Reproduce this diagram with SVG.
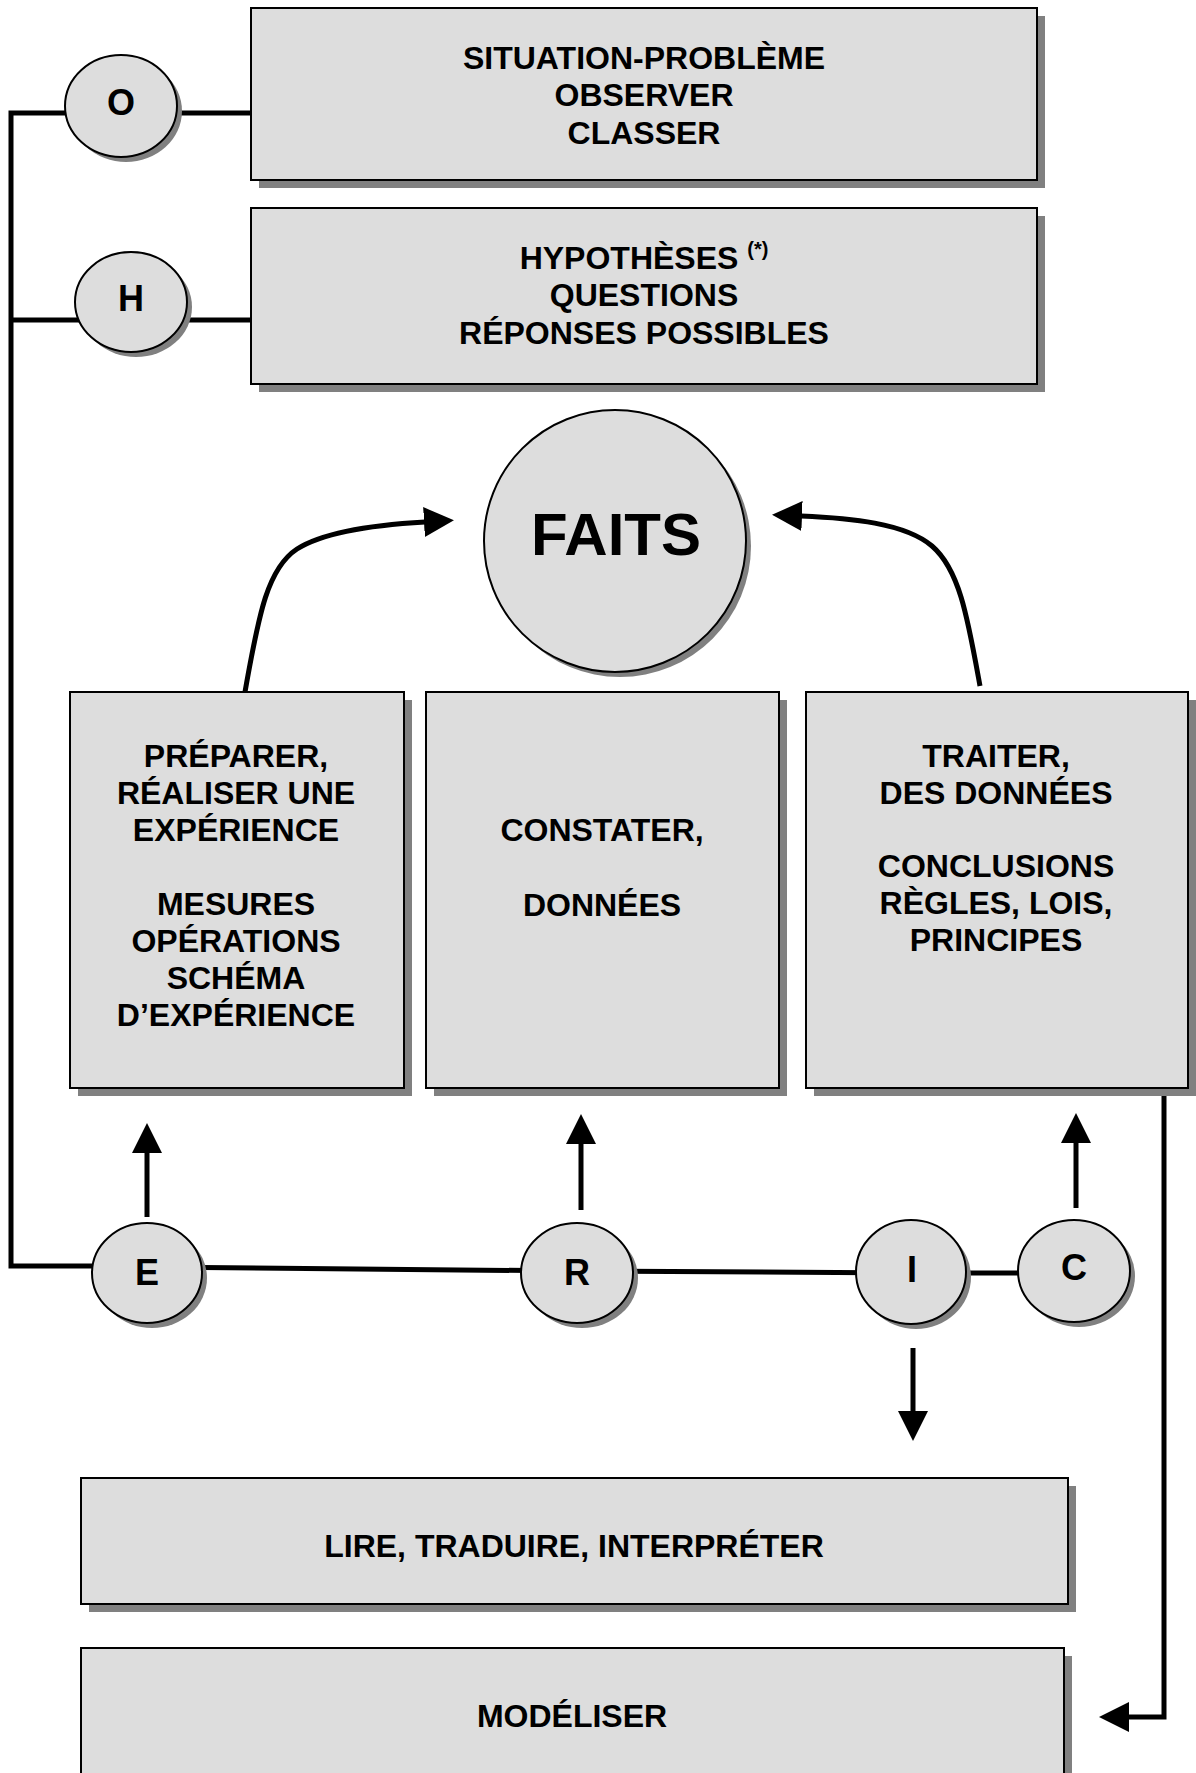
<svg xmlns="http://www.w3.org/2000/svg" width="1196" height="1773" viewBox="0 0 1196 1773">
<defs>
<marker id="ah" markerUnits="userSpaceOnUse" markerWidth="30" markerHeight="30" viewBox="0 0 30 30" refX="1" refY="15" orient="auto">
<path d="M0,0 L30,15 L0,30 Z" fill="#000"/>
</marker>
</defs>
<style>
.box{fill:#dddddd;stroke:#000;stroke-width:2}
.sh{fill:#808080}
.node{fill:#dddddd;stroke:#000;stroke-width:2}
.t{font-family:"Liberation Sans",Arial,Helvetica,sans-serif;font-weight:bold;font-size:32px;fill:#000;text-anchor:middle}
.lt{font-family:"Liberation Sans",Arial,Helvetica,sans-serif;font-weight:bold;font-size:36px;fill:#000;text-anchor:middle}
.c{fill:none;stroke:#000;stroke-width:5}
.a{fill:none;stroke:#000;stroke-width:5;marker-end:url(#ah)}
</style>
<rect width="1196" height="1773" fill="#fff"/>

<g id="connectors">
<path class="c" d="M251,113 H11 V1266 H147"/>
<path class="c" d="M11,320 H251"/>
<path class="c" d="M147,1267 L577,1271 L911,1273 L1074,1273"/>
<path class="a" d="M147,1217 V1152"/>
<path class="a" d="M581,1210 V1143"/>
<path class="a" d="M1076,1208 V1142"/>
<path class="a" d="M913,1348 V1412"/>
<path class="a" d="M245,692 C259,612 268,568 297,549 C324,532 372,525 425,522"/>
<path class="a" d="M980,686 C968,620 960,570 932,546 C905,523 850,518 801,516"/>
<path class="a" d="M1164,1087 V1717 H1128"/>
</g>

<g id="box-situation">
<rect class="sh" x="259" y="16" width="786" height="172"/>
<rect class="box" x="251" y="8" width="786" height="172"/>
<text class="t" x="644" y="69">SITUATION-PROBLÈME</text>
<text class="t" x="644" y="106">OBSERVER</text>
<text class="t" x="644" y="144">CLASSER</text>
</g>

<g id="box-hypotheses">
<rect class="sh" x="259" y="216" width="786" height="176"/>
<rect class="box" x="251" y="208" width="786" height="176"/>
<text class="t" x="644" y="269">HYPOTHÈSES <tspan font-size="20" dy="-13">(*)</tspan></text>
<text class="t" x="644" y="306">QUESTIONS</text>
<text class="t" x="644" y="344">RÉPONSES POSSIBLES</text>
</g>

<g id="node-O">
<ellipse class="sh" cx="126" cy="111" rx="56" ry="51"/>
<ellipse class="node" cx="121" cy="106" rx="56" ry="51"/>
<text class="lt" x="121" y="115">O</text>
</g>

<g id="node-H">
<ellipse class="sh" cx="136" cy="307" rx="56" ry="50"/>
<ellipse class="node" cx="131" cy="302" rx="56" ry="50"/>
<text class="lt" x="131" y="311">H</text>
</g>

<g id="node-faits">
<circle class="sh" cx="620" cy="546" r="131"/>
<circle class="node" cx="615" cy="541" r="131"/>
<text class="t" x="616" y="555" style="font-size:60px">FAITS</text>
</g>

<g id="box-preparer">
<rect class="sh" x="78" y="700" width="334" height="396"/>
<rect class="box" x="70" y="692" width="334" height="396"/>
<text class="t" x="236" y="767">PRÉPARER,</text>
<text class="t" x="236" y="804">RÉALISER UNE</text>
<text class="t" x="236" y="841">EXPÉRIENCE</text>
<text class="t" x="236" y="915">MESURES</text>
<text class="t" x="236" y="952">OPÉRATIONS</text>
<text class="t" x="236" y="989">SCHÉMA</text>
<text class="t" x="236" y="1026">D’EXPÉRIENCE</text>
</g>

<g id="box-constater">
<rect class="sh" x="434" y="700" width="353" height="396"/>
<rect class="box" x="426" y="692" width="353" height="396"/>
<text class="t" x="602" y="841">CONSTATER,</text>
<text class="t" x="602" y="916">DONNÉES</text>
</g>

<g id="box-traiter">
<rect class="sh" x="814" y="700" width="382" height="396"/>
<rect class="box" x="806" y="692" width="382" height="396"/>
<text class="t" x="996" y="767">TRAITER,</text>
<text class="t" x="996" y="804">DES DONNÉES</text>
<text class="t" x="996" y="877">CONCLUSIONS</text>
<text class="t" x="996" y="914">RÈGLES, LOIS,</text>
<text class="t" x="996" y="951">PRINCIPES</text>
</g>

<g id="node-E">
<ellipse class="sh" cx="152" cy="1278" rx="55" ry="50"/>
<ellipse class="node" cx="147" cy="1273" rx="55" ry="50"/>
<text class="lt" x="147" y="1285">E</text>
</g>

<g id="node-R">
<ellipse class="sh" cx="582" cy="1278" rx="56" ry="50"/>
<ellipse class="node" cx="577" cy="1273" rx="56" ry="50"/>
<text class="lt" x="577" y="1285">R</text>
</g>

<g id="node-I">
<ellipse class="sh" cx="916" cy="1277" rx="55" ry="52"/>
<ellipse class="node" cx="911" cy="1272" rx="55" ry="52"/>
<text class="lt" x="912" y="1282">I</text>
</g>

<g id="node-C">
<ellipse class="sh" cx="1079" cy="1276" rx="56" ry="51"/>
<ellipse class="node" cx="1074" cy="1271" rx="56" ry="51"/>
<text class="lt" x="1074" y="1280">C</text>
</g>

<g id="box-lire">
<rect class="sh" x="89" y="1486" width="987" height="126"/>
<rect class="box" x="81" y="1478" width="987" height="126"/>
<text class="t" x="574" y="1557">LIRE, TRADUIRE, INTERPRÉTER</text>
</g>

<g id="box-modeliser">
<rect class="sh" x="89" y="1656" width="983" height="200"/>
<rect class="box" x="81" y="1648" width="983" height="200"/>
<text class="t" x="572" y="1727">MODÉLISER</text>
</g>
</svg>
